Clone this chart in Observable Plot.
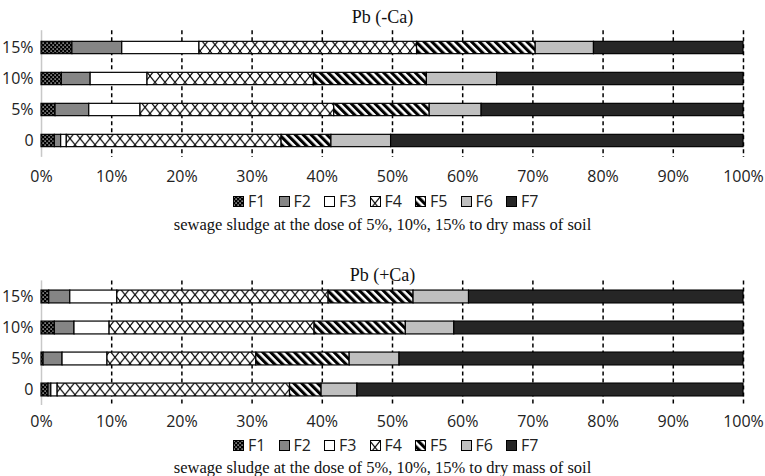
<!DOCTYPE html>
<html>
<head>
<meta charset="utf-8">
<script src="https://cdn.jsdelivr.net/npm/d3@7"></script>
<script src="https://cdn.jsdelivr.net/npm/@observablehq/plot@0.6"></script>
<style>
  html, body { margin: 0; padding: 0; background: #fff; }
  #root { position: relative; width: 765px; height: 476px; overflow: hidden; background: #fff; }
  .title, .caption { position: absolute; left: 0; width: 765px; text-align: center; font-family: "Liberation Serif", "Times New Roman", serif; color: #111; white-space: nowrap; }
  .title { font-size: 18px; }
  .caption { font-size: 16.5px; }
  .panel { position: absolute; left: 0; }
  .legend { position: absolute; left: 233px; display: flex; font-family: "Open Sans", sans-serif; font-size: 16px; color: #222; line-height: 18px; }
  .legend .item { width: 45.5px; display: flex; align-items: center; }
  .legend svg { margin-right: 4px; }
</style>
</head>
<body>
<svg width="0" height="0" style="position:absolute">
  <defs>
    <pattern id="pF1" patternUnits="userSpaceOnUse" width="4" height="4">
      <rect width="4" height="4" fill="#000"/>
      <rect x="0.5" y="0.5" width="1.2" height="1.2" fill="#fff"/>
      <rect x="2.5" y="2.5" width="1.2" height="1.2" fill="#fff"/>
    </pattern>
    <pattern id="pF2" patternUnits="userSpaceOnUse" width="4" height="4">
      <rect width="4" height="4" fill="#858585"/>
    </pattern>
    <pattern id="pF3" patternUnits="userSpaceOnUse" width="4" height="4">
      <rect width="4" height="4" fill="#fff"/>
    </pattern>
    <pattern id="pF4" patternUnits="userSpaceOnUse" width="10" height="12.5" y="1">
      <rect width="10" height="12.5" fill="#fff"/>
      <path d="M0,0L10,12.5M10,0L0,12.5" stroke="#000" stroke-width="1.1"/>
    </pattern>
    <pattern id="pF5" patternUnits="userSpaceOnUse" width="5.6" height="10" patternTransform="rotate(-45)">
      <rect width="5.6" height="10" fill="#fff"/>
      <rect width="3.1" height="10" fill="#000"/>
    </pattern>
    <pattern id="pF6" patternUnits="userSpaceOnUse" width="4" height="4">
      <rect width="4" height="4" fill="#bfbfbf"/>
    </pattern>
    <pattern id="pF7" patternUnits="userSpaceOnUse" width="4" height="4">
      <rect width="4" height="4" fill="#262626"/>
    </pattern>
  </defs>
</svg>
<div id="root"></div>
<script>
// ---- data ----
const doses = ["0", "5%", "10%", "15%"];
const fractions = ["F1", "F2", "F3", "F4", "F5", "F6", "F7"];
const xTicks = [0, 10, 20, 30, 40, 50, 60, 70, 80, 90, 100];

// Pb (-Ca): share of each fraction (%) for doses 0, 5%, 10%, 15%
const minusCaF1 = [1.9, 2.0, 2.9, 4.4];
const minusCaF2 = [0.9, 4.8, 4.1, 7.1];
const minusCaF3 = [0.8, 7.3, 8.1, 11.0];
const minusCaF4 = [30.6, 27.6, 23.7, 31.0];
const minusCaF5 = [7.1, 13.6, 16.1, 16.9];
const minusCaF6 = [8.5, 7.4, 10.0, 8.3];
const minusCaF7 = [50.2, 37.3, 35.1, 21.3];

// Pb (+Ca)
const plusCaF1 = [1.0, 0.3, 1.9, 1.1];
const plusCaF2 = [0.4, 2.7, 2.8, 3.0];
const plusCaF3 = [0.9, 6.4, 5.0, 6.7];
const plusCaF4 = [33.1, 21.2, 29.2, 30.1];
const plusCaF5 = [4.5, 13.3, 13.0, 12.1];
const plusCaF6 = [5.1, 7.1, 6.9, 7.9];
const plusCaF7 = [55.0, 49.0, 41.2, 39.1];

const minusTitle = "Pb (-Ca)";
const plusTitle = "Pb (+Ca)";
const captionText = "sewage sludge at the dose of 5%, 10%, 15% to dry mass of soil";

function toRows(series) {
  const rows = [];
  fractions.forEach((f, i) => {
    doses.forEach((d, j) => rows.push({fraction: f, dose: d, value: series[i][j]}));
  });
  return rows;
}

const minusRows = toRows([minusCaF1, minusCaF2, minusCaF3, minusCaF4, minusCaF5, minusCaF6, minusCaF7]);
const plusRows = toRows([plusCaF1, plusCaF2, plusCaF3, plusCaF4, plusCaF5, plusCaF6, plusCaF7]);

function makeChart(rows, marginTop, plotH, marginBottom, tickPad) {
  const step = plotH / doses.length;
  const inset = (step - 13) / 2;
  return Plot.plot({
    width: 765,
    height: marginTop + plotH + marginBottom,
    marginTop, marginBottom,
    marginLeft: 41, marginRight: 22,
    style: {fontFamily: "'Open Sans', sans-serif", fontSize: "16px", color: "#222", background: "transparent"},
    x: {domain: [0, 100], ticks: xTicks, tickFormat: d => d + "%", label: null, tickSize: 0, tickPadding: tickPad},
    y: {domain: doses.slice().reverse(), padding: 0, label: null, tickSize: 0, tickPadding: 8},
    color: {type: "ordinal", domain: fractions, range: fractions.map(f => `url(#p${f})`)},
    marks: [
      Plot.ruleX(xTicks.filter(t => t > 0), {stroke: "#000", strokeWidth: 1.5, strokeDasharray: "4,3"}),
      Plot.ruleX([0], {stroke: "#c8c8c8", strokeWidth: 1.5}),
      Plot.barX(rows, Plot.stackX({
        x: "value", y: "dose", fill: "fraction", order: fractions,
        stroke: "#000", strokeWidth: 1.2, insetTop: inset, insetBottom: inset
      }))
    ]
  });
}

function addDiv(cls, text, top) {
  const el = document.createElement("div");
  el.className = cls;
  el.textContent = text;
  el.style.top = top + "px";
  root.appendChild(el);
  return el;
}

function addLegend(top) {
  const lg = document.createElement("div");
  lg.className = "legend";
  lg.style.top = top + "px";
  fractions.forEach(f => {
    const it = document.createElement("div");
    it.className = "item";
    it.innerHTML = `<svg width="11" height="11"><rect x="0.5" y="0.5" width="10" height="10" fill="url(#p${f})" stroke="#000" stroke-width="1"/></svg><span>${f}</span>`;
    lg.appendChild(it);
  });
  root.appendChild(lg);
}

const root = document.getElementById("root");

// panel 1
addDiv("title", minusTitle, 7);
const c1 = makeChart(minusRows, 30.2, 126.7, 32, 13);
c1.classList.add("panel");
c1.style.top = "0px";
root.appendChild(c1);
addLegend(192);
addDiv("caption", captionText, 215);

// panel 2
addDiv("title", plusTitle, 265);
const c2 = makeChart(plusRows, 30.4, 124.6, 28, 10);
c2.classList.add("panel");
c2.style.top = "250px";
root.appendChild(c2);
addLegend(436);
addDiv("caption", captionText, 458);
</script>
</body>
</html>
